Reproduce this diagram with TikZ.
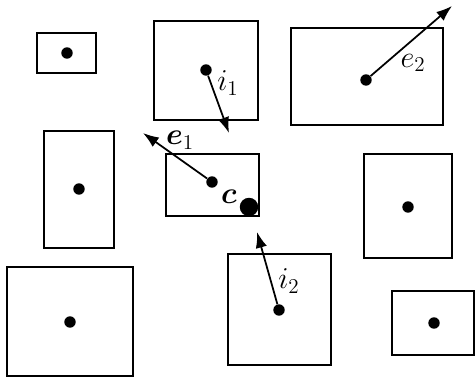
\documentclass[tikz,border=0pt]{standalone}
\usepackage{amsmath,amssymb}
\usetikzlibrary{arrows.meta}
\begin{document}
\begin{tikzpicture}[x=0.02cm,y=-0.02cm,
    box/.style={draw,line width=1.4pt},
    dot/.style={circle,fill,inner sep=0pt,minimum size=6.5pt},
    move/.style={-{Latex[length=9pt,width=6.5pt]},line width=1pt},
    lbl/.style={font=\LARGE}]
  \useasboundingbox (0,0) rectangle (475,377);

  % Draw boxes
  \draw[box] (37,33) rectangle (96,73);
  \draw[box] (154,21) rectangle (258,120);
  \draw[box] (291,28) rectangle (443,125);
  \draw[box] (44,131) rectangle (114,248);
  \draw[box] (166,154) rectangle (259,216);
  \draw[box] (364,154) rectangle (452,258);
  \draw[box] (7,267) rectangle (133,376);
  \draw[box] (228,254) rectangle (331,365);
  \draw[box] (392,291) rectangle (474,355);

  % Draw centres
  \node[dot] (pa) at (67,53) {};
  \node[dot] (pb) at (206,70) {};
  \node[dot] (pc) at (366,80) {};
  \node[dot] (pd) at (79,189) {};
  \node[dot] (pe) at (212,182) {};
  \node[dot] (pf) at (408,207) {};
  \node[dot] (pg) at (70,322) {};
  \node[dot] (ph) at (279,310) {};
  \node[dot] (pi) at (434,323) {};
  \node[circle,fill,inner sep=0pt,minimum size=10.5pt] (c) at (249,207) {};

  % Arrow ends
  \coordinate (ti1) at (229,133);
  \coordinate (te1) at (143,133);
  \coordinate (te2) at (452,6);
  \coordinate (ti2) at (257,232);

  % Connect centres with arrows
  \draw[move] (pb) -- (ti1);
  \draw[move] (pe) -- (te1);
  \draw[move] (pc) -- (te2);
  \draw[move] (ph) -- (ti2);

  % Labels
  \node[lbl] at (228,83) {$i_1$};
  \node[lbl] at (180,140) {$\boldsymbol{e}_1$};
  \node[lbl] at (413,63) {$e_2$};
  \node[lbl] at (289,281) {$i_2$};
  \node[lbl] at (229,197) {$\boldsymbol{c}$};
\end{tikzpicture}
\end{document}
